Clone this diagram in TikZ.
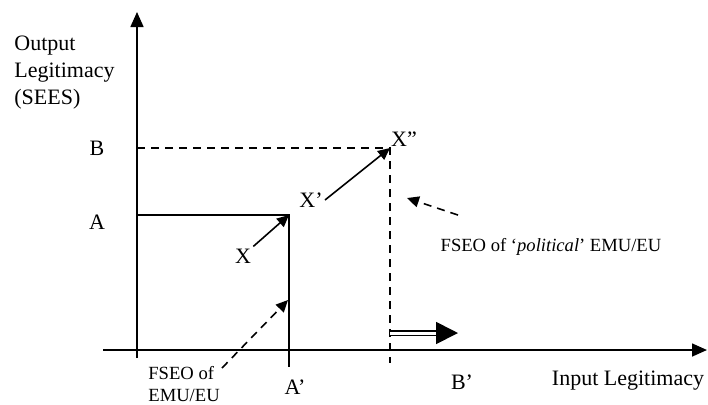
\documentclass[tikz,border=0pt]{standalone}
\usepackage{fontspec}
\setmainfont{Liberation Serif}
\usetikzlibrary{arrows.meta, positioning, calc}

\begin{document}
\begin{tikzpicture}[
    x=0.5pt, y=-0.5pt,
    axis/.style={line width=0.8pt, -{Triangle[length=7.5pt, width=6.5pt]}},
    level/.style={line width=0.8pt},
    guide/.style={line width=0.8pt, dash pattern=on 4pt off 3pt},
    move/.style={line width=0.8pt, -{Triangle[length=6pt, width=5.5pt]}},
    hint/.style={line width=0.8pt, dash pattern=on 4pt off 3pt, -{Triangle[length=6pt, width=5.5pt]}},
    rightshift/.style={line width=0.9pt, double, double distance=1.5pt, -{Triangle[length=11pt, width=11pt]}},
    lbl/.style={font=\fontsize{11}{13.5}\selectfont, inner sep=1pt},
    note/.style={font=\fontsize{9.3}{11}\selectfont, inner sep=1pt}
]
\useasboundingbox (0,0) rectangle (708,404);

% Axes
\coordinate (ytop) at (137,12);
\coordinate (ybot) at (137,358);
\coordinate (xleft) at (103,350);
\coordinate (xright) at (707,350);
\draw[axis] (ybot) -- (ytop);
\draw[axis] (xleft) -- (xright);

\node[lbl, anchor=west, align=left] (ylab) at (12,73) {Output\\Legitimacy\\(SEES)};
\node[lbl] (xlab) at (628,381) {Input Legitimacy};

% Levels A and B
\coordinate (Ay) at (137,215);
\coordinate (Apt) at (289,215);
\coordinate (Ax) at (289,367);
\coordinate (By) at (137,148);
\coordinate (Bpt) at (390,148);
\coordinate (Bx) at (390,363);
\draw[level] (Ay) -- (Apt) -- (Ax);
\draw[guide] (By) -- (Bpt) -- (Bx);

\node[lbl] (A) at (97,222) {A};
\node[lbl] (B) at (97,148) {B};
\node[lbl] (Ap) at (295,387) {A’};
\node[lbl] (Bp) at (462,382) {B’};

% Moves X -> X' -> X''
\node[lbl] (X) at (243,256) {X};
\node[lbl] (Xp) at (311,200) {X’};
\node[lbl] (Xpp) at (404,139) {X”};
\draw[move] (X.north east) -- (Apt);
\draw[move] (Xp.east) -- (Bpt);

% FSEO notes
\node[note, anchor=west, align=left] (fseo) at (146,384) {FSEO of\\EMU/EU};
\node[note] (fseoP) at (551,247) {FSEO of ‘\textit{political}’ EMU/EU};
\coordinate (eTail) at (222,368);
\coordinate (eTip) at (288,300);
\coordinate (pTail) at (458,215);
\coordinate (pTip) at (407,198);
\draw[hint] (eTail) -- (eTip);
\draw[hint] (pTail) -- (pTip);

% Shift to the right
\coordinate (sStart) at (390,333);
\coordinate (sEnd) at (458,333);
\draw[rightshift] (sStart) -- (sEnd);

\end{tikzpicture}
\end{document}
